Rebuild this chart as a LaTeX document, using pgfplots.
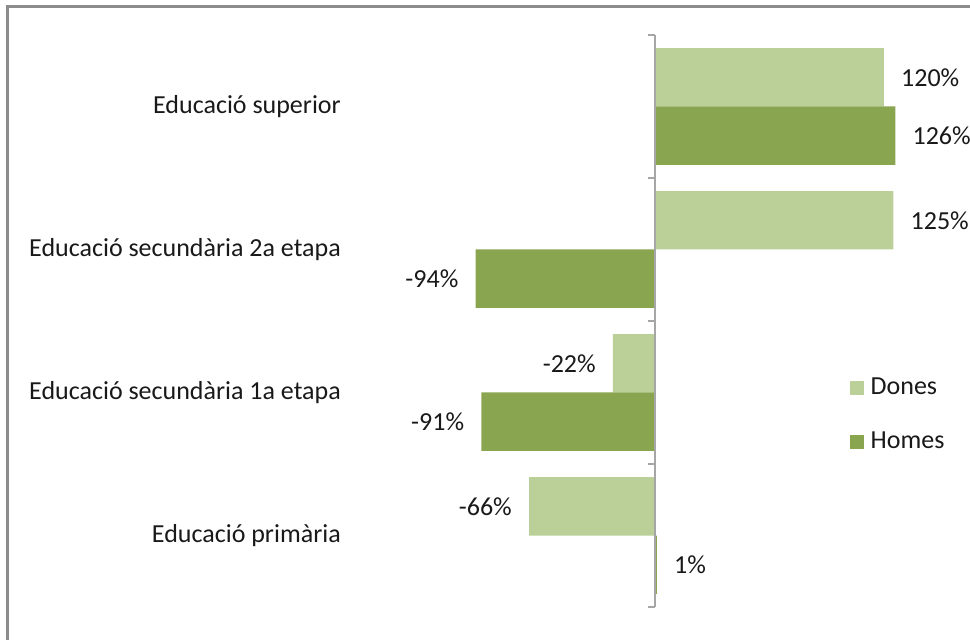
\documentclass[border=0pt]{standalone}
\usepackage{pgfplots}
\pgfplotsset{compat=1.18}
\usepackage{fontspec}
\setmainfont{Carlito}
\definecolor{dones}{HTML}{BBCF98}
\definecolor{homes}{HTML}{8AA54F}
\definecolor{framegray}{HTML}{8C8C8C}
\definecolor{axisgray}{HTML}{A6A6A6}

\begin{document}
\fontsize{19.5}{23}\selectfont
\begin{tikzpicture}
\useasboundingbox (-262.3pt,-24pt) rectangle (465.2pt,455.25pt);
% outer chart frame (only left and top edges are visible)
\draw[framegray, line width=2.25pt] (-257pt,-40pt) -- (-257pt,450.5pt) -- (480pt,450.5pt);
\begin{axis}[
  xbar, clip=false,
  width=465pt, height=429pt, scale only axis,
  xmin=-160, xmax=165, ymin=-0.5, ymax=3.5,
  axis line style={draw=none},
  xtick=\empty,
  ytick={0,1,2,3},
  yticklabels={Educació primària, Educació secundària 1a etapa, Educació secundària 2a etapa, Educació superior},
  major tick length=0pt,
  yticklabel style={font=\fontsize{19.5}{23}\selectfont, text=black!90},
  bar width=0.409,
  point meta=explicit symbolic,
  visualization depends on={rawx \as \rawx},
  nodes near coords,
  every node near coord/.append style={font=\fontsize{19.5}{23}\selectfont,
    inner xsep=12.75pt, text=black!90,
    /utils/exec={\ifdim\rawx pt<0pt \def\nncanchor{east}\else\def\nncanchor{west}\fi},
    anchor=\nncanchor},
  legend style={at={(0.8,0.336)}, anchor=west, draw=none, fill=none,
    row sep=21pt, font=\fontsize{19.5}{23}\selectfont, text=black!90,
    /tikz/every odd column/.append style={column sep=3pt}},
  legend cell align=left,
  legend image code/.code={\fill[#1] (0pt,-5.25pt) rectangle (10.5pt,5.25pt);},
]
\addplot[fill=dones, draw=none, bar shift=0.2045] coordinates {
  (-66,0) [-66\%]
  (-22,1) [-22\%]
  (125,2) [125\%]
  (120,3) [120\%]
};
\addplot[fill=homes, draw=none, bar shift=-0.2045] coordinates {
  (1,0) [1\%]
  (-91,1) [-91\%]
  (-94,2) [-94\%]
  (126,3) [126\%]
};
\legend{Dones,Homes}
\draw[axisgray, line width=1.1pt] (axis cs:0,-0.5) -- (axis cs:0,3.5);
\pgfplotsinvokeforeach{-0.5,0.5,1.5,2.5,3.5}{
  \draw[axisgray, line width=1.1pt] (axis cs:0,#1) -- ([xshift=-5.25pt]axis cs:0,#1);
}
\end{axis}
\end{tikzpicture}
\end{document}
